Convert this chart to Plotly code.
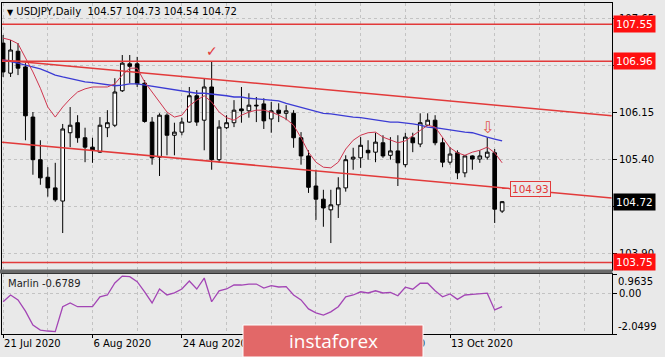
import plotly.graph_objects as go
from datetime import datetime

# ---------------- data ----------------
dates = ["2020-07-21","2020-07-22","2020-07-23","2020-07-24",
         "2020-07-27","2020-07-28","2020-07-29","2020-07-30","2020-07-31",
         "2020-08-03","2020-08-04","2020-08-05","2020-08-06","2020-08-07",
         "2020-08-10","2020-08-11","2020-08-12","2020-08-13","2020-08-14",
         "2020-08-17","2020-08-18","2020-08-19","2020-08-20","2020-08-21",
         "2020-08-24","2020-08-25","2020-08-26","2020-08-27","2020-08-28",
         "2020-08-31","2020-09-01","2020-09-02","2020-09-03","2020-09-04",
         "2020-09-07","2020-09-08","2020-09-09","2020-09-10","2020-09-11",
         "2020-09-14","2020-09-15","2020-09-16","2020-09-17","2020-09-18",
         "2020-09-21","2020-09-22","2020-09-23","2020-09-24","2020-09-25",
         "2020-09-28","2020-09-29","2020-09-30","2020-10-01","2020-10-02",
         "2020-10-05","2020-10-06","2020-10-07","2020-10-08","2020-10-09",
         "2020-10-12","2020-10-13","2020-10-14","2020-10-15","2020-10-16",
         "2020-10-19","2020-10-20","2020-10-21","2020-10-22"]

opens = [107.25,106.77,107.12,106.87,106.07,105.39,105.11,104.94,104.73,105.82,
         105.98,105.74,105.59,105.51,105.90,105.94,106.49,106.92,106.92,106.61,
         105.99,105.43,106.10,105.78,105.83,105.99,106.41,106.02,106.55,105.39,
         105.90,105.98,106.20,106.17,106.26,106.28,106.04,106.18,106.13,106.13,
         105.74,105.45,104.97,104.76,104.59,104.67,104.94,105.40,105.42,105.54,
         105.51,105.66,105.46,105.53,105.31,105.74,105.64,105.94,106.02,105.66,
         105.35,105.50,105.18,105.45,105.40,105.43,105.50,104.57]
highs = [107.38,107.30,107.25,106.93,106.15,105.70,105.27,105.34,105.96,106.23,
         106.10,105.90,105.74,106.07,106.18,106.69,107.06,107.06,107.03,106.66,
         106.07,106.13,106.13,105.98,106.06,106.55,106.50,106.69,106.95,106.02,
         106.10,106.34,106.55,106.45,106.39,106.37,106.31,106.29,106.26,106.18,
         105.83,105.54,105.23,104.91,104.91,105.11,105.46,105.58,105.75,105.70,
         105.82,105.78,105.75,105.78,105.82,105.82,106.13,106.13,106.10,105.74,
         105.59,105.54,105.46,105.46,105.54,105.75,105.56,104.73]
lows = [106.71,106.71,106.74,105.70,105.15,104.99,104.80,104.72,104.22,105.59,
        105.66,105.35,105.34,105.50,105.75,105.91,106.47,106.61,106.55,105.98,
        105.31,105.13,105.46,105.46,105.78,105.98,105.93,105.54,105.23,105.34,
        105.88,105.91,105.98,106.06,105.99,105.88,105.82,105.99,106.02,105.58,
        105.31,104.86,104.43,104.32,104.06,104.46,104.88,105.23,105.26,105.39,
        105.35,105.42,105.39,104.97,105.27,105.51,105.59,105.93,105.62,105.27,
        105.31,105.08,105.11,105.23,105.34,105.39,104.38,104.54]
closes = [106.79,107.14,106.85,106.09,105.39,105.10,104.94,104.75,105.88,105.94,
          105.74,105.59,105.54,105.94,105.98,106.47,106.93,106.88,106.60,106.00,
          105.42,106.10,105.78,105.83,105.99,106.41,105.99,106.55,105.39,105.91,
          105.98,106.18,106.17,106.26,106.25,106.01,106.17,106.13,106.17,105.74,
          105.45,104.95,104.76,104.62,104.67,104.94,105.39,105.43,105.62,105.50,
          105.67,105.45,105.53,105.34,105.75,105.66,105.98,106.02,105.66,105.35,
          105.48,105.18,105.45,105.40,105.45,105.51,104.60,104.72]

ma_fast = [107.33,107.30,107.24,107.01,106.79,106.53,106.23,106.07,106.23,106.36,
           106.47,106.52,106.55,106.55,106.55,106.60,106.74,106.85,106.85,106.63,
           106.47,106.29,106.15,106.07,106.10,106.25,106.34,106.41,106.31,106.15,
           106.06,106.02,106.10,106.15,106.18,106.18,106.15,106.10,106.04,105.94,
           105.74,105.51,105.35,105.27,105.26,105.35,105.56,105.70,105.78,105.82,
           105.83,105.75,105.70,105.66,105.69,105.77,105.85,105.94,105.91,105.74,
           105.58,105.50,105.46,105.51,105.54,105.59,105.50,105.34]
ma_slow = [106.98,106.96,106.93,106.90,106.87,106.84,106.79,106.74,106.71,106.68,
           106.65,106.63,106.62,106.60,106.58,106.57,106.58,106.60,106.60,106.58,
           106.57,106.55,106.53,106.50,106.49,106.47,106.45,106.45,106.44,106.42,
           106.41,106.39,106.39,106.37,106.36,106.36,106.34,106.33,106.29,106.26,
           106.23,106.20,106.17,106.13,106.12,106.10,106.09,106.07,106.06,106.04,
           106.02,106.01,105.99,105.99,105.98,105.96,105.94,105.91,105.90,105.88,
           105.86,105.85,105.83,105.82,105.78,105.75,105.72,105.69]
marlin = [-0.43,-0.09,-0.34,-0.90,-1.60,-1.85,-1.90,-1.93,-0.68,-0.49,
          -0.68,-0.68,-0.68,-0.18,-0.09,0.51,0.86,0.83,0.58,0.07,
          -0.49,0.21,-0.09,0.02,0.21,0.61,0.21,0.76,-0.43,0.12,
          0.21,0.41,0.41,0.46,0.46,0.26,0.38,0.31,0.33,-0.09,
          -0.34,-0.79,-0.99,-1.10,-0.94,-0.68,-0.18,-0.09,0.07,0.01,
          0.12,0.01,0.04,-0.13,0.30,0.20,0.50,0.50,0.12,-0.18,
          -0.04,-0.31,-0.09,-0.06,-0.04,0.00,-0.84,-0.6789]

levels = [107.55, 106.96, 103.75]
channel_pos = [-0.13, 81.7]          # bar-index anchors of the trend channel
channel_upper = [106.98, 106.09]
channel_lower = [105.67, 104.78]
channel_label = 104.93
price_ticks = [107.65, 106.90, 106.15, 105.40, 104.65, 103.90]
marlin_range = [-2.0499, 0.9635]
check_bar = 28      # Aug 28 high
arrow_bar = 65      # Oct 20 high

# ---------------- helpers ----------------
W, H = 665, 357
def px(x): return x / W
def py(y): return 1 - y / H

xi = list(range(len(dates)))
label_idx = list(range(0, 72, 12))
def fmt(d):
    dt = datetime.strptime(d, "%Y-%m-%d")
    return f"{dt.day} {dt.strftime('%b %Y')}"
label_txt = [fmt(dates[i]) if i < len(dates) else "" for i in label_idx]

RED = "#e23a3a"
GRID = "#c3c3c3"
BG = "#e9e9e9"
FONT = "DejaVu Sans"

fig = go.Figure()
fig.add_trace(go.Scatter(x=channel_pos, y=channel_upper, mode="lines",
                         line=dict(color=RED, width=1.5), hoverinfo="skip"))
fig.add_trace(go.Scatter(x=channel_pos, y=channel_lower, mode="lines",
                         line=dict(color=RED, width=1.5), hoverinfo="skip"))
fig.add_trace(go.Scatter(x=xi, y=ma_slow, mode="lines",
                         line=dict(color="#3b3bd4", width=1.3), hoverinfo="skip"))
fig.add_trace(go.Scatter(x=xi, y=ma_fast, mode="lines",
                         line=dict(color="#d0364f", width=1), hoverinfo="skip"))
fig.add_trace(go.Candlestick(x=xi, open=opens, high=highs, low=lows, close=closes,
                             increasing=dict(fillcolor="white", line=dict(color="black", width=1)),
                             decreasing=dict(fillcolor="black", line=dict(color="black", width=1)),
                             whiskerwidth=0, hoverinfo="skip"))
fig.add_trace(go.Scatter(x=xi, y=marlin, mode="lines", xaxis="x2", yaxis="y2",
                         line=dict(color="#a345b5", width=1.3), hoverinfo="skip"))

xdom = [px(2), px(612)]
gridkw = dict(showgrid=True, gridcolor=GRID, griddash="3px,3px", gridwidth=1)
minor = dict(tickmode="array", tickvals=list(range(0, 82, 6)), showgrid=True,
             gridcolor=GRID, griddash="3px,3px", ticks="")

fig.update_layout(
    width=W, height=H, margin=dict(l=0, r=0, t=0, b=0),
    paper_bgcolor=BG, plot_bgcolor=BG, showlegend=False,
    font=dict(family=FONT, size=10, color="black"),
    xaxis=dict(domain=xdom, range=[-0.15, 81.75], anchor="y",
               tickmode="array", tickvals=label_idx, showticklabels=False, ticks="",
               minor=minor, showline=True, mirror=True, linecolor="black",
               zeroline=False, rangeslider=dict(visible=False), **gridkw),
    yaxis=dict(domain=[py(270), py(3)], range=[103.63, 107.89], anchor="x", side="right",
               tickmode="array", tickvals=price_ticks,
               ticktext=[f"{v:.2f}" for v in price_ticks],
               ticks="outside", ticklen=4, tickcolor="black",
               showline=True, mirror=True, linecolor="black", zeroline=False, **gridkw),
    xaxis2=dict(domain=xdom, range=[-0.15, 81.75], anchor="y2", matches="x",
                tickmode="array", tickvals=label_idx, ticktext=label_txt,
                ticks="outside", ticklen=3, tickcolor="black",
                ticklabelposition="outside right",
                minor=minor, showline=True, mirror=True, linecolor="black",
                zeroline=False, **gridkw),
    yaxis2=dict(domain=[py(334), py(274)], range=marlin_range, anchor="x2", side="right",
                tickmode="array", tickvals=[marlin_range[1], 0, marlin_range[0]],
                ticktext=["", "0.00", ""], ticks="outside", ticklen=4, tickcolor="black",
                showline=True, mirror=True, linecolor="black", zeroline=False, **gridkw),
)

shapes = []
for lv in levels:
    shapes.append(dict(type="line", xref="x domain", yref="y", x0=0, x1=1, y0=lv, y1=lv,
                       line=dict(color=RED, width=1.5), layer="above"))
# panel separator
shapes.append(dict(type="rect", xref="paper", yref="paper", x0=0, x1=px(612.5),
                   y0=py(273.5), y1=py(269.5), fillcolor="#6a6a6a", line=dict(width=0),
                   layer="above"))
# logo box
shapes.append(dict(type="rect", xref="paper", yref="paper", x0=px(243), x1=px(423),
                   y0=py(357), y1=py(325), fillcolor="#e26868",
                   line=dict(color="white", width=1), layer="above"))
fig.update_layout(shapes=shapes)

ann = []
o, h, l, c = opens[-1], highs[-1], lows[-1], closes[-1]
ann.append(dict(xref="paper", yref="paper", x=px(5), y=py(12), xanchor="left", yanchor="middle",
                text=f"<span style='font-size:8px'>▼</span> USDJPY,Daily  {o:.2f} {h:.2f} {l:.2f} {c:.2f}",
                showarrow=False, font=dict(family=FONT, size=10, color="black")))
for lv in levels:
    ann.append(dict(xref="paper", yref="y", x=px(613), y=lv, xanchor="left", yanchor="middle",
                    text=f"{lv:.2f}", showarrow=False, bgcolor="#ff1010", borderpad=2,
                    font=dict(family=FONT, size=10.5, color="white")))
ann.append(dict(xref="paper", yref="y", x=px(613), y=c, xanchor="left", yanchor="middle",
                text=f"{c:.2f}", showarrow=False, bgcolor="black", borderpad=2,
                font=dict(family=FONT, size=10.5, color="white")))
ann.append(dict(xref="x", yref="y", x=len(dates) - 1, y=channel_label, text=f"{channel_label:.2f}",
                showarrow=True, arrowhead=0, arrowwidth=1, arrowcolor=RED, ax=28, ay=0,
                bordercolor=RED, borderwidth=1, borderpad=1, bgcolor=BG,
                font=dict(family=FONT, size=10.5, color=RED)))
ann.append(dict(xref="x", yref="y", x=check_bar, y=highs[check_bar], yshift=11, text="✓",
                showarrow=False, font=dict(family=FONT, size=14, color=RED)))
ann.append(dict(xref="x", yref="y", x=arrow_bar, y=highs[arrow_bar], yshift=10, text="⇩",
                showarrow=False, font=dict(family=FONT, size=16, color="#e0584a")))
ann.append(dict(xref="paper", yref="paper", x=px(6), y=py(283), xanchor="left", yanchor="middle",
                text=f"Marlin {marlin[-1]:.4f}", showarrow=False,
                font=dict(family=FONT, size=10, color="#222222")))
ann.append(dict(xref="paper", yref="y2", x=px(616), y=marlin_range[1], xanchor="left", yanchor="top",
                text=f"{marlin_range[1]:.4f}", showarrow=False,
                font=dict(family=FONT, size=10, color="black")))
ann.append(dict(xref="paper", yref="y2", x=px(616), y=marlin_range[0], xanchor="left", yanchor="bottom",
                text=f"{marlin_range[0]:.4f}", showarrow=False,
                font=dict(family=FONT, size=10, color="black")))
ann.append(dict(xref="paper", yref="paper", x=px(333), y=py(341), xanchor="center", yanchor="middle",
                text="instaforex", showarrow=False,
                font=dict(family="Open Sans", size=19, color="white")))
fig.update_layout(annotations=ann)

fig.write_html("out.html", config={"displayModeBar": False},
               post_script="document.body.style.margin='0';document.body.style.overflow='hidden';")
